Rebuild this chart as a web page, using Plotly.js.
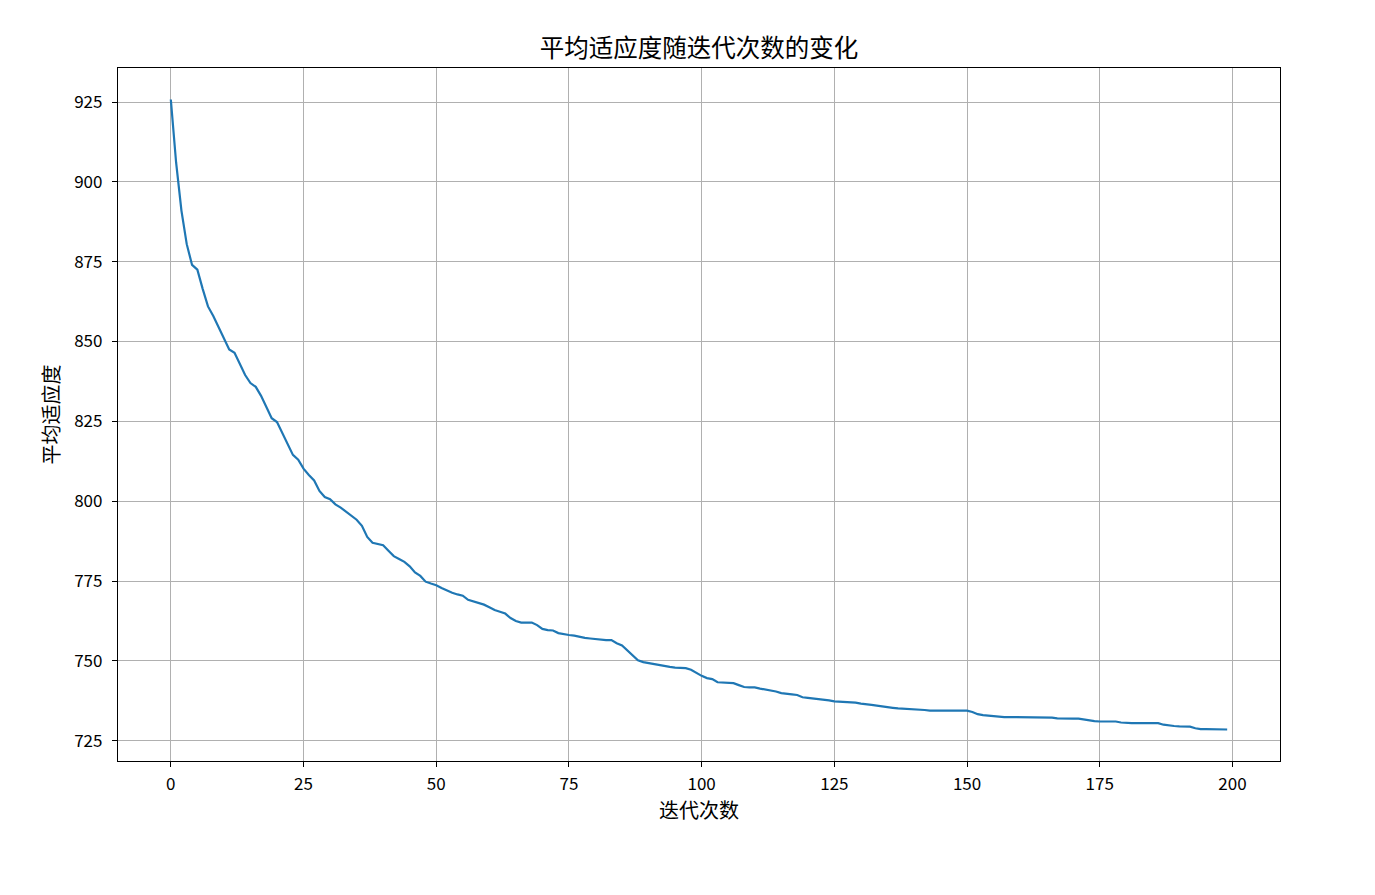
<!DOCTYPE html>
<html>
<head>
<meta charset="utf-8">
<script src="https://cdn.plot.ly/plotly-3.0.1.min.js"></script>
<style>html,body{margin:0;padding:0;background:#fff;}#chart{width:1375px;height:895px;}</style>
</head>
<body>
<div id="chart"></div>
<script>
const chartTitle = "平均适应度随迭代次数的变化";
const xLabel = "迭代次数";
const yLabel = "平均适应度";
const iterations = Array.from({length: 200}, (_, i) => i);
const avgFitness = [
925.8, 906, 891, 880.5, 874, 872.5, 866.5, 861, 858, 854.5,
850.5, 847.5, 846.5, 843, 839.5, 837, 835.8, 833, 829.5, 826,
824.8, 821.5, 818, 814.5, 813, 810.2, 808.2, 806.5, 803.2, 801.3,
800.6, 799, 798, 796.7, 795.3, 794.2, 792.3, 788.8, 787, 786.5,
786.2, 784.5, 782.8, 781.9, 781, 779.6, 777.7, 776.6, 774.8, 774.2,
773.7, 772.8, 772, 771.3, 770.8, 770.4, 769.1, 768.6, 768.3, 767.6,
766.8, 765.9, 765.4, 764.8, 763.4, 762.5, 762, 762, 762, 761.2,
760, 759.6, 759.5, 758.7, 758.3, 758.1, 757.9, 757.5, 757.2, 757,
756.8, 756.5, 756.5, 756.5, 755.5, 754.8, 753.3, 751.5, 750.2, 749.6,
749.3, 749, 748.5, 748.4, 748.1, 747.9, 747.7, 747.7, 747.2, 746.2,
745.3, 744.6, 744.3, 743.3, 743.2, 743.2, 743, 742.4, 741.8, 741.7,
741.7, 741.3, 741, 740.8, 740.4, 739.9, 739.8, 739.5, 739.3, 738.6,
738.4, 738.2, 738, 738, 737.6, 737.3, 737.2, 737.2, 737.1, 736.9,
736.6, 736.3, 736.2, 736, 735.7, 735.5, 735.3, 735.1, 735, 735,
735, 734.9, 734.6, 734.4, 734.4, 734.4, 734.4, 734.4, 734.4, 734.4,
734.4, 734, 733.3, 733, 732.8, 732.6, 732.4, 732.4, 732.4, 732.4,
732.4, 732.4, 732.4, 732.4, 732.4, 732.3, 732.2, 732, 731.9, 731.9,
731.9, 731.9, 731.6, 731.3, 731.1, 731, 731, 731, 731, 730.7,
730.5, 730.5, 730.5, 730.5, 730.5, 730.5, 730.5, 730, 729.7, 729.6,
729.5, 729.5, 729.4, 728.9, 728.6, 728.6, 728.6, 728.6, 728.5, 728.5
];
const xTicks = [0, 25, 50, 75, 100, 125, 150, 175, 200];
const yTicks = [725, 750, 775, 800, 825, 850, 875, 900, 925];

const xMin = Math.min(...iterations), xMax = Math.max(...iterations);
const yMin = Math.min(...avgFitness), yMax = Math.max(...avgFitness);
const xPad = (xMax - xMin) * 0.05, yPad = (yMax - yMin) * 0.05;
const font = "Noto Sans CJK SC, SimHei, sans-serif";

const trace = {
  x: iterations, y: avgFitness, type: "scatter", mode: "lines",
  line: {color: "#1f77b4", width: 2.2}, hoverinfo: "x+y"
};
const axisCommon = {
  showgrid: true, gridcolor: "#b0b0b0", gridwidth: 1.2,
  showline: true, linecolor: "#000", linewidth: 1.2, mirror: true,
  ticks: "outside", ticklen: 5, tickwidth: 1.2, tickcolor: "#000",
  zeroline: false, tickfont: {family: font, size: 17, color: "#000"}
};
const layout = {
  width: 1375, height: 895,
  paper_bgcolor: "#fff", plot_bgcolor: "#fff",
  margin: {l: 118, r: 95, t: 68, b: 134},
  showlegend: false,
  title: {text: chartTitle, font: {family: font, size: 24.5, color: "#000"}, x: 0.5083, xanchor: "center", y: 0.946, yanchor: "middle"},
  xaxis: Object.assign({}, axisCommon, {
    range: [xMin - xPad, xMax + xPad], tickvals: xTicks, ticktext: xTicks.map(String),
    ticklabelstandoff: 2,
    title: {text: xLabel, font: {family: font, size: 20, color: "#000"}, standoff: 5}
  }),
  yaxis: Object.assign({}, axisCommon, {
    range: [yMin - yPad, yMax + yPad], tickvals: yTicks, ticktext: yTicks.map(String),
    ticklabelstandoff: 6,
    title: {text: yLabel, font: {family: font, size: 20, color: "#000"}, standoff: 9}
  })
};
Plotly.newPlot("chart", [trace], layout, {displayModeBar: false});
</script>
</body>
</html>
